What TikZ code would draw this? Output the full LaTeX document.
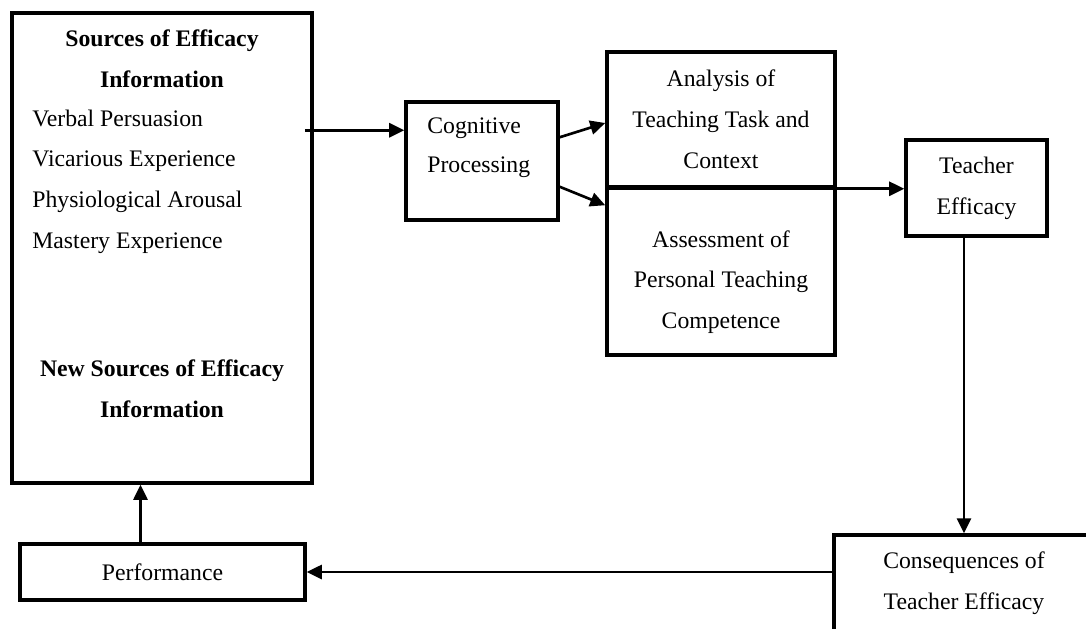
\documentclass[tikz,border=0pt]{standalone}
\usepackage{fontspec}
\setmainfont{Liberation Serif}
\usetikzlibrary{positioning, arrows.meta, calc}
\tikzset{
	boxnode/.style={
			draw=black,
			line width=2pt,
			inner sep=0pt,
			align=center,
			font=\fontsize{13.5}{23.2}\selectfont
		},
	textnode/.style={
			inner sep=0pt,
			font=\fontsize{13.5}{23.2}\selectfont
		},
	flowarrow/.style={
			line width=1.5pt,
			-{Triangle[length=3mm,width=2.8mm]}
		}
}

\begin{document}
\begin{tikzpicture}[x=0.2mm, y=-0.2mm]
\useasboundingbox (0,0) rectangle (1086,628);
% sources box
\node[boxnode, minimum width=60mm, minimum height=94mm] (src) at (162,248) {};
\node[textnode, align=center, font=\fontsize{13.5}{23.2}\selectfont\bfseries] (srchead) at (162,59) {Sources of Efficacy\\Information};
\node[textnode, align=left, anchor=west] (srclist) at (32,181.5) {Verbal Persuasion\\Vicarious Experience\\Physiological Arousal\\Mastery Experience};
\node[textnode, align=center, font=\fontsize{13.5}{23.2}\selectfont\bfseries] (newhead) at (162,388.5) {New Sources of Efficacy\\Information};

\node[boxnode, minimum width=30.4mm, minimum height=23.6mm] (cog) at (482,161) {};
\node[textnode, align=left, anchor=west, font=\fontsize{13.5}{22.1}\selectfont] (cogtxt) at (427,147.5) {Cognitive\\Processing};

\node[boxnode, minimum width=45.6mm, minimum height=27mm] (ana) at (721,119.5) {Analysis of\\Teaching Task and\\Context};
\node[boxnode, minimum width=45.6mm, minimum height=33.6mm] (ass) at (721,271) {};
\node[textnode, align=center] (asstxt) at (721,282) {Assessment of\\Personal Teaching\\Competence};

\node[boxnode, minimum width=28.2mm, minimum height=19.2mm] (teach) at (976.5,188) {Teacher\\Efficacy};
\node[boxnode, minimum width=52mm, minimum height=19.2mm] (cons) at (964,583) {Consequences of\\Teacher Efficacy};
\node[boxnode, minimum width=57mm, minimum height=11.2mm] (perf) at (162.5,572) {Performance};

\coordinate (in1) at ([yshift=-6mm]cog.north west);
\draw[flowarrow] ([xshift=-1.8mm]in1 -| src.east) -- (in1);
\draw[flowarrow] ([yshift=-7.4mm]cog.north east) -- ([yshift=-0.7mm]ana.west);
\draw[flowarrow] ([yshift=7mm]cog.south east) -- ([yshift=-4mm]ass.north west);
\draw[flowarrow] (ana.south west) -- (ana.south west -| teach.west);
\draw[flowarrow] (teach.south -| cons.north) -- (cons.north);
\draw[flowarrow] (cons.west |- perf.east) -- (perf.east);
\coordinate (up) at ([xshift=-4.4mm]perf.north);
\draw[flowarrow] (up) -- (up |- src.south);
\end{tikzpicture}
\end{document}
